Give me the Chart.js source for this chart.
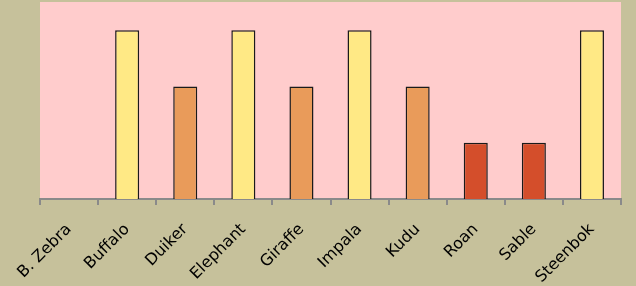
<!DOCTYPE html>
<html>
<head>
<meta charset="utf-8">
<script src="https://cdn.jsdelivr.net/npm/chart.js@4/dist/chart.umd.min.js"></script>
<style>
  html, body { margin: 0; padding: 0; background: #C6C19B; }
  #wrap { width: 636px; height: 286px; }
</style>
</head>
<body>
<div id="wrap"><canvas id="c" width="636" height="286"></canvas></div>
<script>
const categories = ["B. Zebra", "Buffalo", "Duiker", "Elephant", "Giraffe", "Impala", "Kudu", "Roan", "Sable", "Steenbok"];
const values = [0, 3, 2, 3, 2, 3, 2, 1, 1, 3];

const levelColors = { 1: "#D44E2B", 2: "#E99B5A", 3: "#FFE985" };

const plotBg = {
  id: "plotBg",
  beforeDraw(chart) {
    const { ctx, chartArea: a } = chart;
    ctx.save();
    ctx.fillStyle = "#FFCCCC";
    ctx.fillRect(a.left, a.top, a.right - a.left, a.bottom - a.top);
    ctx.restore();
  }
};

new Chart(document.getElementById("c"), {
  type: "bar",
  data: {
    labels: categories,
    datasets: [{
      data: values,
      backgroundColor: values.map(v => levelColors[v] || "#FFE985"),
      borderColor: "#1a1a1a",
      borderWidth: 1.5,
      categoryPercentage: 1,
      barPercentage: 0.414
    }]
  },
  options: {
    responsive: false,
    animation: false,
    devicePixelRatio: 1,
    layout: { padding: { left: 40, right: 15, top: 2, bottom: 0 } },
    plugins: { legend: { display: false }, tooltip: { enabled: false } },
    scales: {
      y: { display: false, min: 0, max: 3.5 },
      x: {
        offset: true,
        grid: { offset: true, drawOnChartArea: false, drawTicks: true, tickLength: 6, color: "#8a8a8a", lineWidth: 2 },
        border: { color: "#8a8a8a", width: 2 },
        ticks: {
          minRotation: 45, maxRotation: 45,
          color: "#000",
          font: { family: "DejaVu Sans", size: 16 },
          padding: 15
        },
        afterFit(scale) { scale.height = 87; }
      }
    }
  },
  plugins: [plotBg]
});
</script>
</body>
</html>
